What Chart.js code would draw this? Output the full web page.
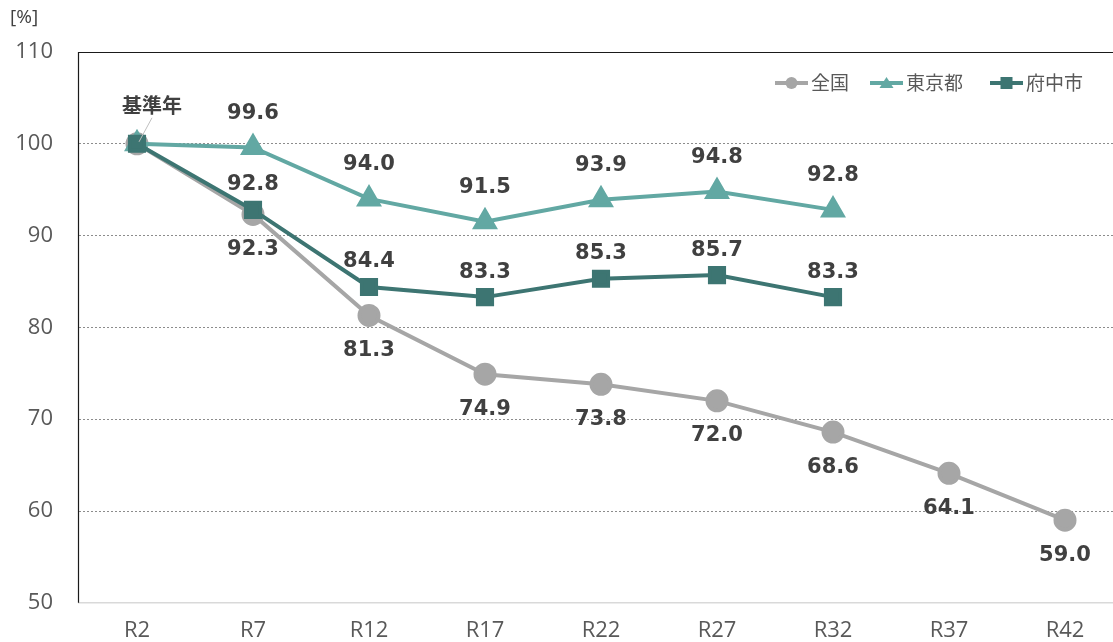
<!DOCTYPE html>
<html>
<head>
<meta charset="utf-8">
<script src="https://cdn.jsdelivr.net/npm/chart.js@4/dist/chart.umd.min.js"></script>
<style>
html,body{margin:0;padding:0;background:#fff;overflow:hidden;width:1113px;height:642px;}
#wrap{position:relative;width:1124px;height:642px;}
</style>
</head>
<body>
<div id="wrap"><canvas id="c" width="1124" height="642"></canvas></div>
<script>
const categories = ['R2','R7','R12','R17','R22','R27','R32','R37','R42'];
const seriesNames = ['全国','東京都','府中市'];
const zenkoku = [100, 92.3, 81.3, 74.9, 73.8, 72.0, 68.6, 64.1, 59.0];
const tokyo   = [100, 99.6, 94.0, 91.5, 93.9, 94.8, 92.8, null, null];
const fuchu   = [100, 92.8, 84.4, 83.3, 85.3, 85.7, 83.3, null, null];
const yTicks = [50, 60, 70, 80, 90, 100, 110];
const baseLabel = '基準年';
const unitLabel = '[%]';

const colors = ['#a6a6a6', '#62a8a3', '#3d7572'];
const labelOffsets = [35, -34, -25];

const framePlugin = {
  id: 'frame',
  afterDraw(chart) {
    const ctx = chart.ctx, a = chart.chartArea;
    ctx.save();
    ctx.strokeStyle = '#1a1a1a';
    ctx.lineWidth = 1.2;
    ctx.beginPath();
    ctx.moveTo(a.left - 0.5, a.bottom);
    ctx.lineTo(a.left - 0.5, a.top + 0.5);
    ctx.lineTo(a.right + 2, a.top + 0.5);
    ctx.stroke();
    ctx.fillStyle = '#404040';
    ctx.font = '19px "Open Sans", sans-serif';
    ctx.textAlign = 'left';
    ctx.textBaseline = 'middle';
    ctx.fillText(unitLabel, 10, 18);
    ctx.restore();
  }
};

const labelPlugin = {
  id: 'dlabels',
  afterDatasetsDraw(chart) {
    const ctx = chart.ctx;
    ctx.save();
    ctx.font = 'bold 21px "DejaVu Sans", sans-serif';
    ctx.fillStyle = '#404040';
    ctx.textAlign = 'center';
    ctx.textBaseline = 'middle';
    chart.data.datasets.forEach((ds, i) => {
      const meta = chart.getDatasetMeta(i);
      ds.data.forEach((v, j) => {
        if (v === null || j === 0) return;
        const p = meta.data[j];
        ctx.fillText(v.toFixed(1), p.x, p.y + labelOffsets[i]);
      });
    });
    const p0 = chart.getDatasetMeta(2).data[0];
    ctx.font = 'bold 20px "Noto Sans CJK JP", sans-serif';
    ctx.fillText(baseLabel, p0.x + 15, p0.y - 38);
    ctx.strokeStyle = '#bfbfbf';
    ctx.lineWidth = 1;
    ctx.beginPath();
    ctx.moveTo(p0.x + 15, p0.y - 26);
    ctx.lineTo(p0.x + 2, p0.y - 2);
    ctx.stroke();
    ctx.restore();
  }
};

const legendPlugin = {
  id: 'customLegend',
  afterDraw(chart) {
    const ctx = chart.ctx;
    const items = [
      {x: 775, style: 'circle'},
      {x: 870, style: 'triangle'},
      {x: 990, style: 'rect'}
    ];
    const y = 83;
    ctx.save();
    ctx.font = '19px "Noto Sans CJK JP", sans-serif';
    ctx.textBaseline = 'middle';
    ctx.textAlign = 'left';
    chart.data.datasets.forEach((ds, i) => {
      const it = items[i];
      const c = ds.borderColor;
      ctx.strokeStyle = c; ctx.lineWidth = 4;
      ctx.beginPath(); ctx.moveTo(it.x, y); ctx.lineTo(it.x + 33, y); ctx.stroke();
      ctx.fillStyle = c;
      const cx = it.x + 16.5;
      ctx.beginPath();
      if (it.style === 'circle') { ctx.arc(cx, y, 6, 0, Math.PI * 2); }
      else if (it.style === 'triangle') { ctx.moveTo(cx, y - 6); ctx.lineTo(cx + 7, y + 5); ctx.lineTo(cx - 7, y + 5); ctx.closePath(); }
      else { ctx.rect(cx - 6, y - 6, 12, 12); }
      ctx.fill();
      ctx.fillStyle = '#595959';
      ctx.fillText(ds.label, it.x + 36, y);
    });
    ctx.restore();
  }
};

new Chart(document.getElementById('c'), {
  type: 'line',
  data: {
    labels: categories,
    datasets: [
      {label: seriesNames[0], data: zenkoku, borderColor: colors[0], backgroundColor: colors[0],
       borderWidth: 4, pointStyle: 'circle', pointRadius: 9.5, pointHoverRadius: 9.5, order: 2},
      {label: seriesNames[1], data: tokyo, borderColor: colors[1], backgroundColor: colors[1],
       borderWidth: 4, pointStyle: 'triangle', pointRadius: 11, pointHoverRadius: 11, order: 1},
      {label: seriesNames[2], data: fuchu, borderColor: colors[2], backgroundColor: colors[2],
       borderWidth: 4, pointStyle: 'rect', pointRadius: 10, pointHoverRadius: 10, order: 0}
    ]
  },
  options: {
    responsive: false,
    animation: false,
    events: [],
    layout: {autoPadding: false, padding: {top: 52, right: 1, left: 0, bottom: 0}},
    plugins: {legend: {display: false}, tooltip: {enabled: false}},
    scales: {
      x: {
        offset: true,
        grid: {display: false, drawTicks: false, offset: true},
        border: {display: true, color: '#d9d9d9', width: 1.5},
        ticks: {color: '#595959', font: {family: '"Open Sans", sans-serif', size: 22}, padding: 15, maxRotation: 0, autoSkip: false},
        afterFit(s) { s.height = 39; }
      },
      y: {
        min: 50, max: 110,
        afterBuildTicks(s) { s.ticks = yTicks.map(v => ({value: v})); },
        grid: {
          drawTicks: false,
          color: (c) => (c.tick && (c.tick.value === 50 || c.tick.value === 110)) ? 'rgba(0,0,0,0)' : '#8c8c8c',
          lineWidth: 1
        },
        border: {display: false, dash: [2, 2]},
        ticks: {color: '#595959', font: {family: '"Open Sans", sans-serif', size: 22}, padding: 26},
        afterFit(s) { s.width = 79; }
      }
    }
  },
  plugins: [framePlugin, labelPlugin, legendPlugin]
});
</script>
</body>
</html>
